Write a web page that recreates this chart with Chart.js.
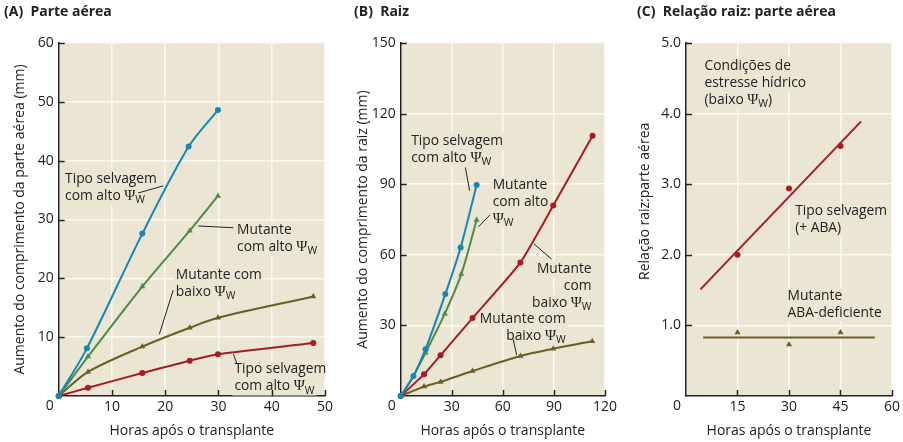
<!DOCTYPE html>
<html>
<head>
<meta charset="utf-8">
<script src="https://cdn.jsdelivr.net/npm/chart.js@4/dist/chart.umd.min.js"></script>
<style>
  body { margin: 0; background: #fff; width: 903px; height: 442px; position: relative; overflow: hidden; }
  canvas { position: absolute; top: 0; }
</style>
</head>
<body>
<canvas id="chartA" width="337" height="442" style="left:0px"></canvas>
<canvas id="chartB" width="283" height="442" style="left:337px"></canvas>
<canvas id="chartC" width="283" height="442" style="left:620px"></canvas>
<script>
// (A) Parte aérea - hours and shoot growth (mm)
const aHoursBlue  = [0, 5.3, 15.7, 24.4, 29.9];
const aWildHigh   = [0, 8.1, 27.6, 42.4, 48.6];
const aHoursGreen = [0, 5.5, 15.7, 24.6, 29.9];
const aMutHigh    = [0, 6.7, 18.6, 28.1, 34.0];
const aHoursLong  = [0, 5.5, 15.7, 24.6, 29.9, 47.8];
const aMutLow     = [0, 4.1, 8.4, 11.6, 13.3, 16.9];
const aWildLow    = [0, 1.4, 3.9, 6.0, 7.1, 9.0];

// (B) Raiz - hours and root growth (mm)
const bHoursBlue  = [0, 7.5, 14.6, 26.2, 35.2, 44.6];
const bWildHigh   = [0, 8.5, 19.9, 43.3, 63.1, 89.7];
const bHoursGreen = [0, 7.5, 14.6, 25.9, 35.6, 44.6];
const bMutHigh    = [0, 8.5, 18.4, 35.0, 51.8, 74.8];
const bHoursRed   = [0, 13.7, 23.4, 42.2, 70.3, 89.6, 112.7];
const bRedLow     = [0, 9.2, 17.3, 33.1, 56.7, 80.9, 110.6];
const bHoursOlive = [0, 13.7, 23.4, 42.2, 70.3, 89.6, 112.5];
const bOliveLow   = [0, 4.0, 6.0, 10.6, 17.0, 20.1, 23.3];

// (C) Relação raiz:parte aérea
const cHours      = [15, 30, 45];
const cWildRatio  = [2.0, 2.94, 3.54];
const cMutRatio   = [0.9, 0.73, 0.9];
const cWildFitX   = [4.2, 51];
const cWildFitY   = [1.51, 3.89];
const cMutFitX    = [5, 55];
const cMutFitY    = [0.83, 0.83];

const FONT = "'Open Sans', sans-serif";
const INK = '#222';
const CREAM = '#ebe5d3';
const GRID = '#fbf9f2';
const BLUE = '#1686b4';
const GREEN = '#4f8a46';
const RED = '#a51c24';
const OLIVE = '#6b5e22';

const zip = (xs, ys) => xs.map((x, i) => ({ x: x, y: ys[i] }));

// split "com alto Ψ_W" into runs: Ψ in a serif face, _W as a subscript
function runs(str) {
  const out = [];
  str.split(/(Ψ|_\w)/).forEach(p => {
    if (!p) return;
    if (p === 'Ψ') out.push({ t: p, font: "15px 'Liberation Serif'", dy: 0 });
    else if (p[0] === '_') out.push({ t: p.slice(1), font: '10.5px ' + FONT, dy: 4 });
    else out.push({ t: p, font: '13.8px ' + FONT, dy: 0 });
  });
  return out;
}
function richWidth(ctx, str) {
  let w = 0;
  runs(str).forEach(r => { ctx.font = r.font; w += ctx.measureText(r.t).width; });
  return w;
}
function drawRich(ctx, str, x, y, align) {
  let cx = align === 'right' ? x - richWidth(ctx, str) : x;
  runs(str).forEach(r => {
    ctx.font = r.font;
    ctx.fillText(r.t, cx, y + r.dy);
    cx += ctx.measureText(r.t).width;
  });
}

// plot background, text notes with leader lines, inward tick marks, corner "0"
const panelPlugin = {
  id: 'panel',
  beforeDraw(chart) {
    const a = chart.chartArea, ctx = chart.ctx;
    ctx.save();
    ctx.fillStyle = CREAM;
    ctx.fillRect(a.left, a.top, a.right - a.left, a.bottom - a.top);
    ctx.restore();
  },
  beforeDatasetsDraw(chart, args, opts) {
    const { ctx, scales: { x, y } } = chart;
    const a = chart.chartArea;
    ctx.save();
    ctx.beginPath();
    ctx.rect(a.left, a.top, a.right - a.left, a.bottom - a.top);
    ctx.clip();
    ctx.fillStyle = CREAM;
    (opts.texts || []).forEach(t => {
      t.lines.forEach((line, i) => {
        const w = richWidth(ctx, line);
        const px = x.getPixelForValue(t.x);
        const py = y.getPixelForValue(t.y) + i * opts.gap;
        const left = t.align === 'right' ? px - w : px;
        ctx.fillRect(left - 2, py - 8, w + 4, 17);
      });
    });
    ctx.restore();
  },
  afterDatasetsDraw(chart, args, opts) {
    const { ctx, scales: { x, y } } = chart;
    ctx.save();
    ctx.strokeStyle = INK;
    ctx.lineWidth = 1;
    (opts.leaders || []).forEach(l => {
      ctx.beginPath();
      ctx.moveTo(x.getPixelForValue(l[0]), y.getPixelForValue(l[1]));
      ctx.lineTo(x.getPixelForValue(l[2]), y.getPixelForValue(l[3]));
      ctx.stroke();
    });
    ctx.fillStyle = INK;
    ctx.textBaseline = 'middle';
    (opts.texts || []).forEach(t => {
      t.lines.forEach((line, i) => {
        drawRich(ctx, line, x.getPixelForValue(t.x), y.getPixelForValue(t.y) + i * opts.gap, t.align);
      });
    });
    ctx.restore();
  },
  afterDraw(chart) {
    const { ctx, scales: { x, y } } = chart;
    ctx.save();
    ctx.strokeStyle = INK;
    ctx.lineWidth = 1.5;
    ctx.beginPath();
    x.ticks.forEach(t => {
      if (t.value === x.min) return;
      const px = Math.round(x.getPixelForValue(t.value)) + 0.5;
      ctx.moveTo(px, x.top);
      ctx.lineTo(px, x.top - 6);
    });
    y.ticks.forEach(t => {
      if (t.value === y.min) return;
      const py = Math.round(y.getPixelForValue(t.value)) + 0.5;
      ctx.moveTo(y.right, py);
      ctx.lineTo(y.right + 6, py);
    });
    ctx.stroke();
    ctx.fillStyle = INK;
    ctx.font = '14px ' + FONT;
    ctx.textAlign = 'center';
    ctx.textBaseline = 'top';
    ctx.fillText('0', y.right - 9, x.top + 3);
    ctx.restore();
  }
};

function lineSet(pts, color, style, extra) {
  return Object.assign({
    data: pts,
    borderColor: color,
    backgroundColor: color,
    borderWidth: 2,
    pointStyle: style,
    pointRadius: style === 'triangle' ? 3.5 : 3,
    pointBorderWidth: 0,
    tension: 0.3,
    clip: false
  }, extra || {});
}

function makeOptions(cfg) {
  const tickFont = { family: FONT, size: 14 };
  return {
    responsive: false,
    animation: false,
    layout: { autoPadding: false, padding: { left: cfg.padLeft, right: cfg.padRight, top: 0, bottom: 0 } },
    plugins: {
      legend: { display: false },
      tooltip: { enabled: false },
      title: {
        display: true, text: cfg.title, align: 'start', color: INK,
        font: { family: FONT, size: 14, weight: 'bold' },
        padding: { top: 4, bottom: 22.2 }
      },
      panel: { texts: cfg.texts, leaders: cfg.leaders, gap: 17 }
    },
    scales: {
      x: {
        type: 'linear', min: 0, max: cfg.xMax,
        afterFit: s => { s.height = 46; },
        ticks: { stepSize: cfg.xStep, padding: 3, color: INK, font: tickFont,
                 callback: v => v === 0 ? '' : v },
        grid: { color: GRID, lineWidth: 1.5, drawTicks: false },
        border: { color: INK, width: 1.5 },
        title: { display: true, text: 'Horas após o transplante', color: INK, font: tickFont,
                 padding: { top: 0, bottom: 3 } }
      },
      y: {
        type: 'linear', min: 0, max: cfg.yMax,
        afterFit: s => { s.width = cfg.yWidth; },
        ticks: { stepSize: cfg.yStep, padding: 5, color: INK, font: tickFont,
                 callback: v => v === 0 ? '' : (cfg.yDec ? v.toFixed(1) : v) },
        grid: { color: GRID, lineWidth: 1.5, drawTicks: false },
        border: { color: INK, width: 1.5 },
        title: { display: true, text: cfg.yTitle, color: INK, font: tickFont,
                 padding: { top: cfg.yTitlePad, bottom: 0 } }
      }
    }
  };
}

new Chart(document.getElementById('chartA'), {
  type: 'line',
  data: {
    datasets: [
      lineSet(zip(aHoursBlue, aWildHigh), BLUE, 'circle'),
      lineSet(zip(aHoursGreen, aMutHigh), GREEN, 'triangle'),
      lineSet(zip(aHoursLong, aMutLow), OLIVE, 'triangle'),
      lineSet(zip(aHoursLong, aWildLow), RED, 'circle')
    ]
  },
  options: makeOptions({
    title: '(A)  Parte aérea', padLeft: 4, padRight: 12, yWidth: 54.7, yTitlePad: 7.6,
    xMax: 50, xStep: 10, yMax: 60, yStep: 10,
    yTitle: 'Aumento do comprimento da parte aérea (mm)',
    texts: [
      { x: 1.2, y: 36.9, lines: ['Tipo selvagem', 'com alto Ψ_W'] },
      { x: 33.5, y: 28.2, lines: ['Mutante', 'com alto Ψ_W'] },
      { x: 22.0, y: 20.6, lines: ['Mutante com', 'baixo Ψ_W'] },
      { x: 33.0, y: 4.5, lines: ['Tipo selvagem', 'com alto Ψ_W'] }
    ],
    leaders: [[14.9, 34.5, 19.6, 35.7], [26.2, 28.9, 32.8, 28.6], [21.5, 18.0, 18.9, 10.5], [32.8, 7.1, 33.5, 5.4]]
  }),
  plugins: [panelPlugin]
});

new Chart(document.getElementById('chartB'), {
  type: 'line',
  data: {
    datasets: [
      lineSet(zip(bHoursBlue, bWildHigh), BLUE, 'circle'),
      lineSet(zip(bHoursGreen, bMutHigh), GREEN, 'triangle'),
      lineSet(zip(bHoursRed, bRedLow), RED, 'circle', { tension: 0.15 }),
      lineSet(zip(bHoursOlive, bOliveLow), OLIVE, 'triangle')
    ]
  },
  options: makeOptions({
    title: '(B)  Raiz', padLeft: 17, padRight: 12.3, yWidth: 46.7, yTitlePad: 0.9,
    xMax: 120, xStep: 30, yMax: 150, yStep: 30,
    yTitle: 'Aumento do comprimento da raiz (mm)',
    texts: [
      { x: 6.2, y: 108.5, lines: ['Tipo selvagem', 'com alto Ψ_W'] },
      { x: 54, y: 89.7, lines: ['Mutante', 'com alto', 'Ψ_W'] },
      { x: 112.1, y: 53.9, align: 'right', lines: ['Mutante', 'com', 'baixo Ψ_W'] },
      { x: 96.9, y: 32.6, align: 'right', lines: ['Mutante com', 'baixo Ψ_W'] }
    ],
    leaders: [[38.0, 97.1, 40.5, 87.2], [45.7, 71.9, 52.5, 77], [78.3, 64.6, 88.6, 58.2], [66.1, 24.1, 68.1, 17.4]]
  }),
  plugins: [panelPlugin]
});

new Chart(document.getElementById('chartC'), {
  type: 'line',
  data: {
    datasets: [
      lineSet(zip(cWildFitX, cWildFitY), RED, 'circle', { pointRadius: 0, tension: 0 }),
      lineSet(zip(cHours, cWildRatio), RED, 'circle', { showLine: false }),
      lineSet(zip(cMutFitX, cMutFitY), OLIVE, 'circle', { pointRadius: 0, tension: 0 }),
      lineSet(zip(cHours, cMutRatio), OLIVE, 'triangle', { showLine: false })
    ]
  },
  options: makeOptions({
    title: '(C)  Relação raiz: parte aérea', padLeft: 17, padRight: 5, yWidth: 49, yTitlePad: 0,
    xMax: 60, xStep: 15, yMax: 5, yStep: 1, yDec: true,
    // leading no-break spaces lift the rotated title like in the original
    yTitle: '\u00A0'.repeat(10) + 'Relação raiz:parte aérea',
    texts: [
      { x: 5.4, y: 4.68, lines: ['Condições de', 'estresse hídrico', '(baixo Ψ_W)'] },
      { x: 31.8, y: 2.62, lines: ['Tipo selvagem', '(+ ABA)'] },
      { x: 29.6, y: 1.42, lines: ['Mutante', 'ABA-deficiente'] }
    ],
    leaders: []
  }),
  plugins: [panelPlugin]
});
</script>
</body>
</html>
